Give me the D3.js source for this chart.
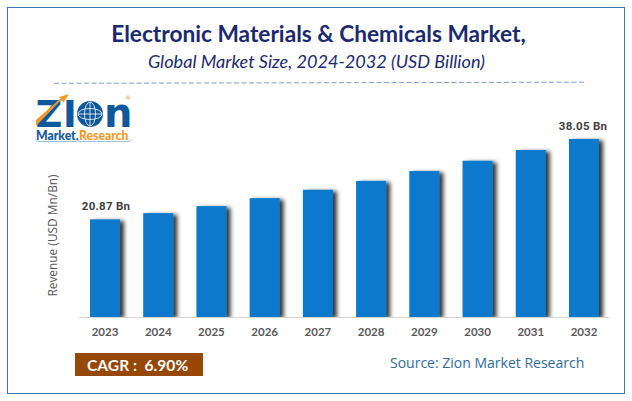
<!DOCTYPE html>
<html>
<head>
<meta charset="utf-8">
<script src="https://cdnjs.cloudflare.com/ajax/libs/d3/7.8.5/d3.min.js"></script>
<style>
  html, body { margin: 0; padding: 0; background: #fff; }
  svg { display: block; }
  text { font-family: Lato, sans-serif; }
</style>
</head>
<body>
<svg width="632" height="401"></svg>
<script>
const years = ['2023', '2024', '2025', '2026', '2027', '2028', '2029', '2030', '2031', '2032']
const revenue = [20.87, 22.2, 23.7, 25.4, 27.2, 29.1, 31.2, 33.4, 35.7, 38.05]
const barLabels = ['20.87 Bn', '', '', '', '', '', '', '', '', '38.05 Bn']

const svg = d3.select('svg')

const x = d3.scaleBand().domain(years).range([78.4, 610.6]).paddingInner(0.436).paddingOuter(0.218)
const y = d3.scaleLinear().domain([0, 38.05]).range([317, 139])

// frame
svg.append('rect')
  .attr('x', 7.5).attr('y', 7.5)
  .attr('width', 617).attr('height', 386)
  .attr('fill', '#fff')
  .attr('stroke', '#3a78b5')
  .attr('stroke-width', 1)

// titles
svg.append('text')
  .attr('x', 318.5).attr('y', 42)
  .attr('text-anchor', 'middle')
  .attr('font-size', 22.7).attr('font-weight', 700)
  .attr('fill', '#1b2a72')
  .text('Electronic Materials & Chemicals Market,')

svg.append('text')
  .attr('x', 316.5).attr('y', 68)
  .attr('text-anchor', 'middle')
  .attr('font-size', 18.1).attr('font-style', 'italic')
  .attr('fill', '#1b2a72')
  .text('Global Market Size, 2024-2032 (USD Billion)')

svg.append('line')
  .attr('x1', 54).attr('x2', 585)
  .attr('y1', 83.3).attr('y2', 82.2)
  .attr('stroke', '#7d9fd8')
  .attr('stroke-width', 1)
  .attr('stroke-dasharray', '5 2.5')

// logo
const logo = svg.append('g')
const word = logo.append('text')
  .style('font-family', '"DejaVu Sans", sans-serif')
  .attr('font-weight', 700)
  .attr('fill', '#10589c')
word.append('tspan').attr('x', 35.5).attr('y', 127).attr('font-size', 37).text('Z')
word.append('tspan').attr('x', 63).attr('y', 127).attr('font-size', 37).text('I')
word.append('tspan').attr('x', 104).attr('y', 127).attr('font-size', 40).text('n')
word.append('tspan').attr('x', 128).attr('y', 99.5)
  .attr('font-size', 6).attr('text-anchor', 'middle')
  .attr('font-weight', 400).attr('fill', '#f39a26')
  .text('®')
logo.append('path')
  .attr('d', 'M36 126 L61 100 L63.5 102.5 L69 94 L59 97 L60.5 98.5 L36 120 Z')
  .attr('fill', '#f39a26')
logo.append('circle')
  .attr('cx', 90).attr('cy', 114).attr('r', 13)
  .attr('fill', '#10589c')
const globe = logo.append('g')
  .attr('fill', 'none').attr('stroke', '#fff').attr('stroke-width', 0.8)
globe.append('ellipse').attr('cx', 90).attr('cy', 114).attr('rx', 5.5).attr('ry', 12)
globe.append('ellipse').attr('cx', 90).attr('cy', 114).attr('rx', 12).attr('ry', 5.5)
globe.append('line').attr('x1', 78).attr('x2', 102).attr('y1', 114).attr('y2', 114)
globe.append('line').attr('x1', 90).attr('x2', 90).attr('y1', 102).attr('y2', 126)

const tagline = logo.append('text')
  .attr('y', 139.5)
  .attr('font-size', 12.2).attr('font-weight', 900)
tagline.append('tspan').attr('x', 36).attr('fill', '#10589c').text('Market.')
tagline.append('tspan').attr('x', 79).attr('fill', '#f39a26').text('Research')
logo.append('path')
  .attr('d', 'M35 139.5 Q36 141.5 40 141.5 L76 141.5 Q77.5 141.5 78 140 Q78.5 141.5 80 141.5 L128 141.5 Q131 141.5 132 139.5')
  .attr('fill', 'none')
  .attr('stroke', '#9cc0e0')
  .attr('stroke-width', 1)

// bar shadow
const shadow = svg.append('defs').append('filter')
  .attr('id', 'bar-shadow')
  .attr('x', '-20%').attr('width', '170%')
  .attr('y', '-5%').attr('height', '115%')
shadow.append('feDropShadow')
  .attr('dx', 4).attr('dy', 1.5)
  .attr('stdDeviation', 2.3)
  .attr('flood-color', '#000')
  .attr('flood-opacity', 0.8)

svg.append('defs').append('clipPath')
  .attr('id', 'plot-clip')
  .append('rect')
  .attr('x', 70).attr('y', 120)
  .attr('width', 550).attr('height', y(0) - 120)

svg.append('g')
  .attr('clip-path', 'url(#plot-clip)')
  .selectAll('.bar')
  .data(revenue)
  .enter().append('rect')
  .attr('class', 'bar')
  .attr('x', (d, i) => x(years[i]))
  .attr('y', (d) => y(d))
  .attr('width', x.bandwidth())
  .attr('height', (d) => y(0) - y(d))
  .attr('fill', '#0779cd')
  .attr('filter', 'url(#bar-shadow)')

// x axis
const xAxis = svg.append('g')
  .attr('transform', 'translate(0,' + y(0) + ')')
  .call(d3.axisBottom(x).tickSize(0).tickPadding(11))
xAxis.select('.domain')
  .attr('d', 'M79,0.5H609')
  .attr('stroke', '#d4d4d4')
  .attr('stroke-width', 1)
xAxis.selectAll('text')
  .attr('font-family', 'Lato, sans-serif')
  .attr('font-size', 11.5).attr('font-weight', 700)
  .attr('fill', '#595959')

// bar labels
svg.selectAll('.bar-label')
  .data(barLabels)
  .enter().append('text')
  .attr('class', 'bar-label')
  .attr('x', (d, i) => x(years[i]) + x.bandwidth() / 2 + (i === 0 ? 1 : -1))
  .attr('y', (d, i) => y(revenue[i]) - 9.5)
  .attr('text-anchor', 'middle')
  .attr('font-size', 11.5).attr('font-weight', 700)
  .attr('letter-spacing', 0.25)
  .style('font-family', 'Roboto, sans-serif')
  .attr('fill', '#404040')
  .text((d) => d)

// y axis title
svg.append('text')
  .attr('transform', 'translate(56.5,235.5) rotate(-90)')
  .attr('text-anchor', 'middle')
  .attr('font-size', 11.9)
  .style('font-family', '"Open Sans", sans-serif')
  .attr('fill', '#595959')
  .text('Revenue (USD Mn/Bn)')

// cagr box
svg.append('rect')
  .attr('x', 75).attr('y', 353)
  .attr('width', 128).attr('height', 23)
  .attr('fill', '#974706')
svg.append('text')
  .attr('x', 87).attr('y', 370.7)
  .attr('font-size', 15.6).attr('font-weight', 700)
  .attr('fill', '#fff')
  .attr('xml:space', 'preserve')
  .text('CAGR :  6.90%')

// source
svg.append('text')
  .attr('x', 390).attr('y', 368)
  .attr('font-size', 14)
  .style('font-family', '"Open Sans", sans-serif')
  .attr('fill', '#2e6ca4')
  .text('Source: Zion Market Research')
</script>
</body>
</html>
